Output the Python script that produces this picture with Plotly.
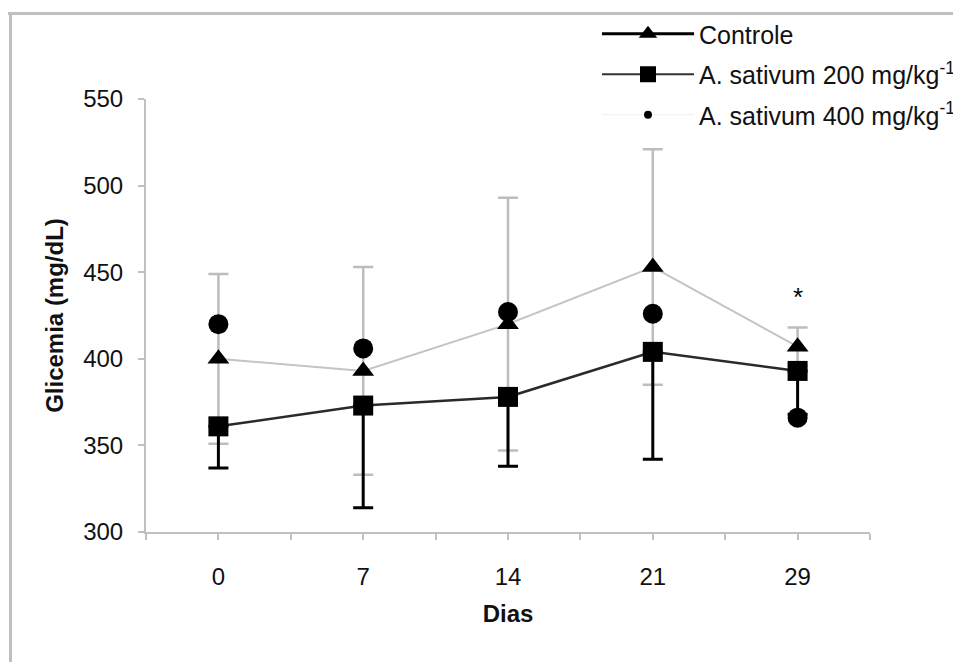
import plotly.graph_objects as go

# ---------------- data ----------------
days = ["0", "7", "14", "21", "29"]
controle = [400, 393, 420, 453, 407]
controle_err = [49, 60, 73, 68, 11]
sativum200 = [361, 373, 378, 404, 393]
sativum200_err = [24, 59, 40, 62, 25]
sativum400 = [420, 406, 427, 426, 366]
series_names = ["Controle", "A. sativum 200 mg/kg<sup>-1</sup>", "A. sativum 400 mg/kg<sup>-1</sup>"]
y_ticks = [300, 350, 400, 450, 500, 550]
signif_day = "29"

# ---------------- layout constants ----------------
W, H = 961, 662
OFF = 8  # page body margin in the browser
ML, MR, MT, MB = 146 - OFF, 91 + OFF, 99 - OFF, 130 + OFF
FONT = "Liberation Sans, Arial, sans-serif"
AXIS_GRAY = "#c0c0c0"

xi = list(range(len(days)))

fig = go.Figure()

# data traces
fig.add_trace(go.Scatter(
    x=xi, y=controle, mode="lines+markers", showlegend=False,
    line=dict(color="#c4c4c4", width=2),
    marker=dict(symbol="triangle-up", size=19, color="black"),
    error_y=dict(type="data", array=controle_err, symmetric=True,
                 color="#bdbdbd", thickness=2.5, width=10),
))
fig.add_trace(go.Scatter(
    x=xi, y=sativum200, mode="lines+markers", showlegend=False,
    line=dict(color="#2a2a2a", width=2.5),
    marker=dict(symbol="square", size=20, color="black"),
    error_y=dict(type="data", symmetric=False, array=[0] * len(days),
                 arrayminus=sativum200_err, color="black", thickness=3, width=10),
))
fig.add_trace(go.Scatter(
    x=xi, y=sativum400, mode="markers", showlegend=False,
    marker=dict(symbol="circle", size=20, color="black"),
))

# legend-only traces (styled like the reference legend)
fig.add_trace(go.Scatter(
    x=[None], y=[None], mode="lines+markers", name=series_names[0], legendgroup="a",
    line=dict(color="black", width=3),
    marker=dict(symbol="triangle-up", size=16, color="black"),
))
fig.add_trace(go.Scatter(
    x=[None], y=[None], mode="lines+markers", name=series_names[1], legendgroup="b",
    line=dict(color="#333333", width=2),
    marker=dict(symbol="square", size=16, color="black"),
))
fig.add_trace(go.Scatter(
    x=[None], y=[None], mode="lines+markers", name=series_names[2], legendgroup="c",
    line=dict(color="#eeeeee", width=1),
    marker=dict(symbol="circle", size=8, color="black"),
))

# significance mark
si = days.index(signif_day)
fig.add_annotation(
    x=si, y=controle[si] + controle_err[si], xref="x", yref="y",
    text="*", showarrow=False, yanchor="bottom", yshift=14,
    font=dict(family=FONT, size=26, color="black"),
)

# frame (top and left edges visible), positions given in screen pixels
pw = W - ML - MR
ph = H - MT - MB
def px_to_paper_x(px):
    return (px - OFF - ML) / pw
def px_to_paper_y(py):
    return (H - MB - (py - OFF)) / ph

fig.add_shape(type="line", xref="paper", yref="paper",
              x0=px_to_paper_x(5), x1=px_to_paper_x(W + 20),
              y0=px_to_paper_y(13.5), y1=px_to_paper_y(13.5),
              line=dict(color=AXIS_GRAY, width=3))
fig.add_shape(type="line", xref="paper", yref="paper",
              x0=px_to_paper_x(10.5), x1=px_to_paper_x(10.5),
              y0=px_to_paper_y(12), y1=px_to_paper_y(H + 20),
              line=dict(color=AXIS_GRAY, width=3))

fig.update_layout(
    width=W, height=H,
    margin=dict(l=ML, r=MR, t=MT, b=MB, autoexpand=False),
    paper_bgcolor="white", plot_bgcolor="white",
    font=dict(family=FONT, size=24, color="#111111"),
    legend=dict(
        x=px_to_paper_x(597), y=px_to_paper_y(11), xanchor="left", yanchor="top",
        bgcolor="rgba(0,0,0,0)", itemwidth=92, tracegroupgap=5,
        font=dict(family=FONT, size=25, color="#111111"),
        traceorder="grouped",
    ),
    xaxis=dict(
        range=[-0.5, len(days) - 0.5],
        tickmode="array", tickvals=xi, ticktext=days,
        ticks="outside", ticklen=6, tickwidth=2, tickcolor=AXIS_GRAY,
        minor=dict(tickmode="array", tickvals=[i - 0.5 for i in xi] + [len(days) - 0.5],
                   ticks="outside", ticklen=6, tickwidth=2, tickcolor=AXIS_GRAY),
        showline=True, linecolor=AXIS_GRAY, linewidth=2,
        showgrid=False, zeroline=False,
        ticklabelstandoff=16,
        title=dict(text="<b>Dias</b>", standoff=16, font=dict(size=24)),
        automargin=False,
    ),
    yaxis=dict(
        range=[y_ticks[0], y_ticks[-1]],
        tickmode="array", tickvals=y_ticks,
        ticks="outside", ticklen=6, tickwidth=2, tickcolor=AXIS_GRAY,
        showline=True, linecolor=AXIS_GRAY, linewidth=2,
        showgrid=False, zeroline=False,
        ticklabelstandoff=10,
        title=dict(text="<b>Glicemia (mg/dL)</b>", standoff=13, font=dict(size=24)),
        automargin=False,
    ),
)

fig.write_html("out.html")
